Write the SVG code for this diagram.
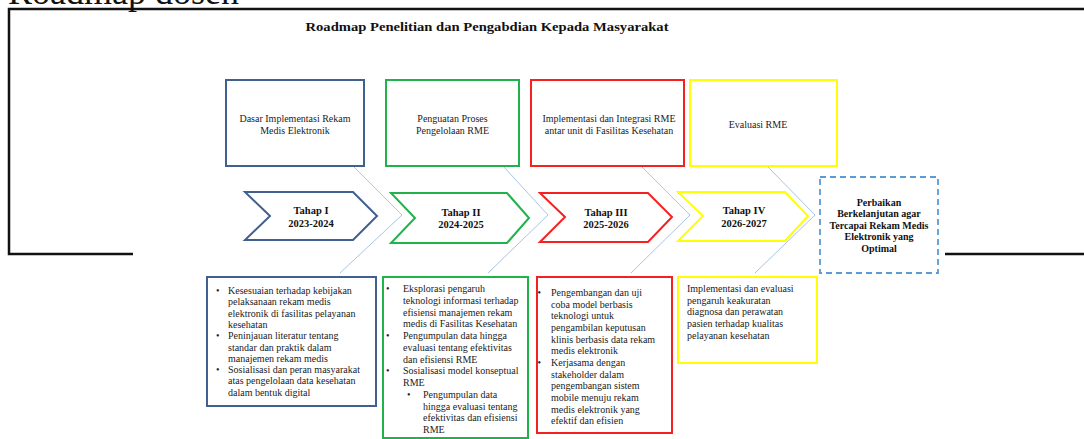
<svg xmlns="http://www.w3.org/2000/svg" width="1084" height="439" viewBox="0 0 1084 439">
<style>
.t{font-family:"Liberation Serif","Times New Roman",serif;font-size:10px;fill:#222}
.c{text-anchor:middle}
.b{font-weight:bold;font-size:10.5px;fill:#111}
.box{fill:#fff;stroke-width:2}
.blue{stroke:#41608f}
.green{stroke:#22b24c}
.red{stroke:#f52020}
.yellow{stroke:#ffff00}
.conn{fill:none;stroke:#a8c4e4;stroke-width:1}
.frame{fill:none;stroke:#111;stroke-width:2.5}
</style>
<rect width="1084" height="439" fill="#fff"/>
<text x="8" y="4" font-family="Liberation Serif,serif" font-size="36" fill="#111">Roadmap dosen</text>
<g id="frame">
<polyline class="frame" points="133,254 9,254 9,9 1084,9"/>
<line class="frame" x1="945" y1="254" x2="1084" y2="254"/>
</g>
<text x="487" y="31" class="t c" style="font-weight:bold;font-size:12.5px;fill:#111" textLength="363" lengthAdjust="spacingAndGlyphs">Roadmap Penelitian dan Pengabdian Kepada Masyarakat</text>
<g id="connectors">
<polyline class="conn" points="353,166 402,215 340,273"/>
<polyline class="conn" points="503,166 548,215 488,273"/>
<polyline class="conn" points="641,166 690,215 631,273"/>
<polyline class="conn" points="767,166 815,215 755,273"/>
</g>
<g id="top1"><rect class="box blue" x="226" y="80" width="138" height="86"/>
<text class="t c" x="295" y="121.5">Dasar Implementasi Rekam</text><text class="t c" x="295" y="133.5">Medis Elektronik</text></g>
<g id="top2"><rect class="box green" x="386" y="80" width="133" height="86"/>
<text class="t c" x="452.5" y="121.5">Penguatan Proses</text><text class="t c" x="452.5" y="133.5">Pengelolaan RME</text></g>
<g id="top3"><rect class="box red" x="531" y="80" width="153" height="86"/>
<text class="t c" x="609" y="121.5">Implementasi dan Integrasi RME</text><text class="t c" x="609" y="133.5">antar unit di Fasilitas Kesehatan</text></g>
<g id="top4"><rect class="box yellow" x="690" y="80" width="147" height="86"/>
<text class="t c" x="758" y="127.5">Evaluasi RME</text></g>
<g id="tahap1"><polygon class="box blue" points="245,192 353,192 377,216 353,240 245,240 270,216"/>
<text class="t c b" x="311" y="214">Tahap I</text><text class="t c b" x="311" y="226.5">2023-2024</text></g>
<g id="tahap2"><polygon class="box green" points="391,193 507,193 529,218 507,243 391,243 415,218"/>
<text class="t c b" x="461" y="216">Tahap II</text><text class="t c b" x="461" y="228">2024-2025</text></g>
<g id="tahap3"><polygon class="box red" points="540,193 648,193 672,217 648,242 540,242 565,217"/>
<text class="t c b" x="606" y="216">Tahap III</text><text class="t c b" x="606" y="228">2025-2026</text></g>
<g id="tahap4"><polygon class="box yellow" points="678,192 785,192 808,216 785,241 678,241 703,216"/>
<text class="t c b" x="744" y="214">Tahap IV</text><text class="t c b" x="744" y="226.5">2026-2027</text></g>
<g id="goal"><rect x="820" y="177" width="118" height="96" fill="#fff" stroke="#5b9bd5" stroke-width="1.8" stroke-dasharray="6,4"/>
<text class="t c b" x="879" y="205.5" style="font-size:10px">Perbaikan</text>
<text class="t c b" x="879" y="217" style="font-size:10px">Berkelanjutan agar</text>
<text class="t c b" x="879" y="228.7" style="font-size:10px">Tercapai Rekam Medis</text>
<text class="t c b" x="879" y="240.4" style="font-size:10px">Elektronik yang</text>
<text class="t c b" x="879" y="252" style="font-size:10px">Optimal</text></g>
<g id="detail1"><rect class="box blue" x="207" y="277" width="169" height="129"/>
<g class="t">
<text x="216" y="294">•</text><text x="228" y="294">Kesesuaian terhadap kebijakan</text>
<text x="228" y="305.3">pelaksanaan rekam medis</text>
<text x="228" y="316.6">elektronik di fasilitas pelayanan</text>
<text x="228" y="327.9">kesehatan</text>
<text x="216" y="339.2">•</text><text x="228" y="339.2">Peninjauan literatur tentang</text>
<text x="228" y="350.5">standar dan praktik dalam</text>
<text x="228" y="361.8">manajemen rekam medis</text>
<text x="216" y="373.1">•</text><text x="228" y="373.1">Sosialisasi dan peran masyarakat</text>
<text x="228" y="384.4">atas pengelolaan data kesehatan</text>
<text x="228" y="395.7">dalam bentuk digital</text>
</g></g>
<g id="detail2"><rect class="box green" x="383" y="277" width="145" height="161"/>
<g class="t">
<text x="386" y="292">•</text><text x="403" y="292">Eksplorasi pengaruh</text>
<text x="403" y="303.75">teknologi informasi terhadap</text>
<text x="403" y="315.5">efisiensi manajemen rekam</text>
<text x="403" y="327.25">medis di Fasilitas Kesehatan</text>
<text x="386" y="339">•</text><text x="403" y="339">Pengumpulan data hingga</text>
<text x="403" y="350.75">evaluasi tentang efektivitas</text>
<text x="403" y="362.5">dan efisiensi RME</text>
<text x="386" y="374.25">•</text><text x="403" y="374.25">Sosialisasi model konseptual</text>
<text x="403" y="386">RME</text>
<text x="407" y="397.75">•</text><text x="423" y="397.75">Pengumpulan data</text>
<text x="423" y="409.5">hingga evaluasi tentang</text>
<text x="423" y="421.25">efektivitas dan efisiensi</text>
<text x="423" y="433">RME</text>
</g></g>
<g id="detail3"><rect class="box red" x="537" y="277" width="135" height="156"/>
<g class="t">
<text x="537.5" y="296">•</text><text x="551" y="296">Pengembangan dan uji</text>
<text x="551" y="307.67">coba model berbasis</text>
<text x="551" y="319.33">teknologi untuk</text>
<text x="551" y="331">pengambilan keputusan</text>
<text x="551" y="342.67">klinis berbasis data rekam</text>
<text x="551" y="354.33">medis elektronik</text>
<text x="537.5" y="366">•</text><text x="551" y="366">Kerjasama dengan</text>
<text x="551" y="377.67">stakeholder dalam</text>
<text x="551" y="389.33">pengembangan sistem</text>
<text x="551" y="401">mobile menuju rekam</text>
<text x="551" y="412.67">medis elektronik yang</text>
<text x="551" y="424.33">efektif dan efisien</text>
</g></g>
<g id="detail4"><rect class="box yellow" x="678" y="277" width="139" height="86"/>
<g class="t">
<text x="687" y="292">Implementasi dan evaluasi</text>
<text x="687" y="303.67">pengaruh keakuratan</text>
<text x="687" y="315.33">diagnosa dan perawatan</text>
<text x="687" y="327">pasien terhadap kualitas</text>
<text x="687" y="338.67">pelayanan kesehatan</text>
</g></g>
</svg>
